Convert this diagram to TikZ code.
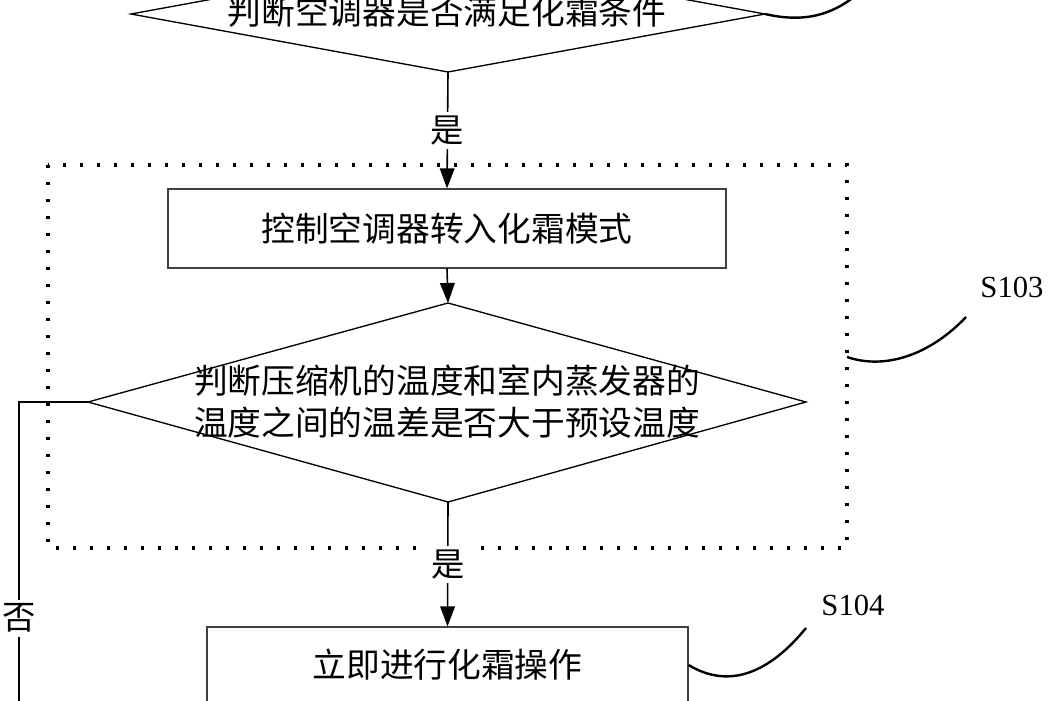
\documentclass[tikz,border=0pt]{standalone}
\usepackage{fontspec}
\setmainfont{Liberation Serif}
\newfontfamily\cjk{Noto Sans CJK SC}
\usetikzlibrary{arrows.meta}
\begin{document}
\begin{tikzpicture}[x=0.75pt,y=-0.75pt,
  diatext/.style={inner sep=0pt,align=center,font=\cjk\fontsize{25.3}{31.5}\selectfont},
  diaedge/.style={line width=1pt},
  boxn/.style={rectangle,draw=black!75,line width=0.9pt,inner sep=0pt,font=\cjk\fontsize{25.3}{30}\selectfont},
  arr/.style={line width=1.2pt,-{Triangle[length=15pt,width=11pt]}},
  lbl/.style={fill=white,inner sep=3pt,font=\cjk\fontsize{25}{30}\selectfont},
  curv/.style={line width=1.8pt},
  dots/.style={line width=2.4pt,dash pattern=on 2.4pt off 10.35pt},
  slabel/.style={font=\fontsize{23}{28}\selectfont}]
\clip (0,0) rectangle (1048,700);
\fill[white] (0,0) rectangle (1048,700);
% dotted group
\draw[dots] (48,165) rectangle (847,548);
% diamond 1
\coordinate (d1n) at (448,-44);
\coordinate (d1s) at (448,72);
\coordinate (d1w) at (131,14);
\coordinate (d1e) at (765,14);
\draw[diaedge] (d1n) -- (d1e) -- (d1s) -- (d1w) -- cycle;
\node[diatext] (d1) at (447,12) {判断空调器是否满足化霜条件};
% box 1
\node[boxn,minimum width=418.5pt,minimum height=59.25pt] (b1) at (447,228.5) {控制空调器转入化霜模式};
% diamond 2
\coordinate (d2n) at (448,303);
\coordinate (d2s) at (448,502);
\coordinate (d2w) at (88,402);
\coordinate (d2e) at (806,402);
\draw[diaedge] (d2n) -- (d2e) -- (d2s) -- (d2w) -- cycle;
\node[diatext] (d2) at (447,402) {判断压缩机的温度和室内蒸发器的\\温度之间的温差是否大于预设温度};
% box 3
\node[boxn,minimum width=360.75pt,minimum height=57pt] (b3) at (447.5,665) {立即进行化霜操作};
\coordinate (nocorner) at (19,402);
\coordinate (nobot) at (19,720);
% connectors
\draw[arr] (d1s) -- node[lbl,midway] (yes1) {是} (b1.north);
\draw[arr] (b1.south) -- (d2n);
\draw[arr] (d2s) -- node[lbl,midway] (yes2) {是} (b3.north);
\draw[line width=1pt] (d2w) -- (nocorner) -- node[lbl,pos=0.68] (no1) {否} (nobot);
% step labels
\coordinate (c1end) at (860,-8);
\draw[curv] (d1e) .. controls (800,22) and (830,18) .. (c1end);
\coordinate (c2start) at (847,357);
\coordinate (c2end) at (966,317);
\draw[curv] (c2start) .. controls (885,370) and (930,355) .. (c2end);
\node[slabel] (s103) at (1012,287) {S103};
\coordinate (c3end) at (806,628);
\draw[curv] (b3.east) .. controls (730,690) and (770,672) .. (c3end);
\node[slabel] (s104) at (853,605) {S104};
\end{tikzpicture}
\end{document}
